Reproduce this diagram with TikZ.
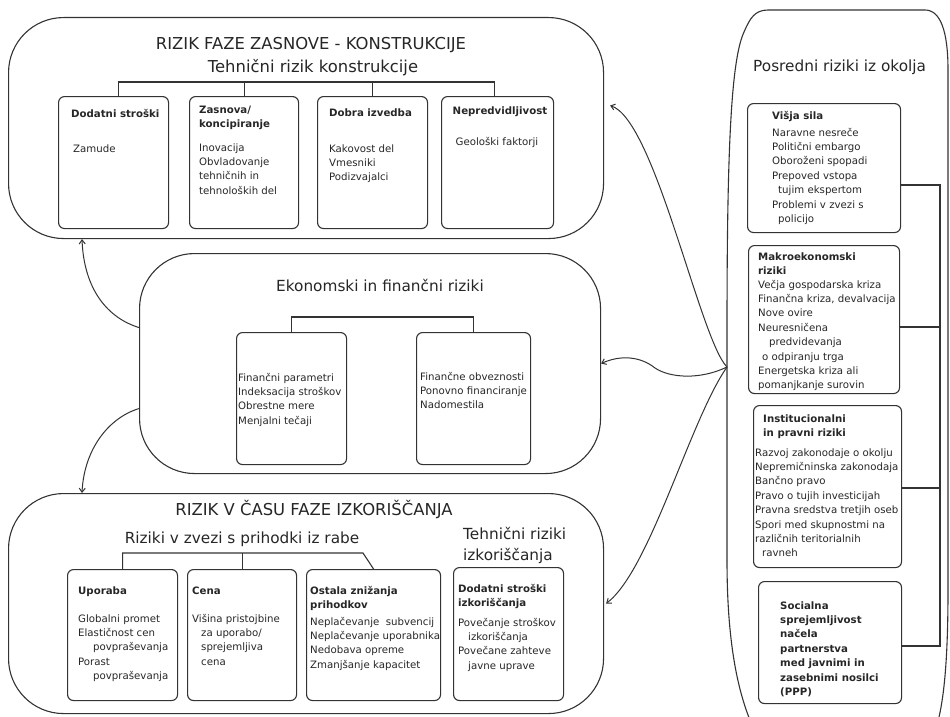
\documentclass[tikz,border=0pt]{standalone}
\usepackage{fontspec}
\setmainfont{DejaVu Sans}
\usetikzlibrary{arrows.meta}
\newcommand{\fsz}{\fontsize{10.2}{14.4}\selectfont}
\begin{document}
\begin{tikzpicture}[x=1pt,y=-1pt,
 ln/.style={draw=black!80,line width=1.1pt},
 panel/.style={ln,rounded corners=55pt,inner sep=0,anchor=north west},
 rbox/.style={ln,rounded corners=6pt,inner sep=0,anchor=north west},
 body/.style={font=\fsz,text=black!85,align=left,anchor=north west,inner sep=0},
 lineone/.style={font=\fsz,text=black!85,anchor=base west,inner sep=0},
 head/.style={body,font=\fsz\bfseries},
 headone/.style={lineone,font=\fsz\bfseries},
 ttl/.style={font=\fontsize{16.4}{20}\selectfont,text=black!85,inner sep=0,anchor=base},
 sub/.style={font=\fontsize{15.3}{21.5}\selectfont,text=black!85,inner sep=0,anchor=base},
 arr/.style={draw=black!80,line width=1pt,-{Straight Barb[length=4pt,width=6pt]}}]
\useasboundingbox (0,0) rectangle (950,717);
\clip (0,0) rectangle (950,717);

% ---------- top panel ----------
\node[panel,minimum width=595pt,minimum height=221pt] (top) at (8,17) {};
\node[ttl] (topta) at (311,50) {RIZIK FAZE ZASNOVE - KONSTRUKCIJE};
\node[ttl] (toptb) at (313,72) {Tehnični rizik konstrukcije};
\node[rbox,minimum width=110pt,minimum height=132pt] (t1) at (58,96) {};
\node[rbox,minimum width=109pt,minimum height=132pt] (t2) at (189,96) {};
\node[rbox,minimum width=110pt,minimum height=132pt] (t3) at (317,96) {};
\node[rbox,minimum width=112pt,minimum height=132pt] (t4) at (441,96) {};
\coordinate (tt) at (0,82);
\draw[ln] ([xshift=5pt]t1.north) -- ([xshift=5pt]t1.north |- tt) -- ([xshift=-3pt]t4.north |- tt) -- ([xshift=-3pt]t4.north);
\draw[ln] (t2.north) -- (t2.north |- tt);
\draw[ln] (t3.north) -- (t3.north |- tt);
\node[headone] (t1h) at (71,117) {Dodatni stroški};
\node[lineone] (t1b) at (73,152) {Zamude};
\node[head] (t2h) at (199,102.9) {\strut Zasnova/\\koncipiranje};
\node[body] (t2b) at (199,140.9) {\strut Inovacija\\Obvladovanje\\tehničnih in\\tehnoloških del};
\node[headone] (t3h) at (329,116) {Dobra izvedba};
\node[body] (t3b) at (329,141.9) {\strut Kakovost del\\Vmesniki\\Podizvajalci};
\node[headone,anchor=base] (t4h) at (500,114) {Nepredvidljivost};
\node[lineone,anchor=base] (t4b) at (497,145) {Geološki faktorji};

% ---------- middle panel ----------
\node[panel,minimum width=461pt,minimum height=220pt] (mid) at (139,253) {};
\node[sub] (midt) at (380,291) {Ekonomski in finančni riziki};
\node[rbox,minimum width=110pt,minimum height=132pt] (m1) at (236,332) {};
\node[rbox,minimum width=114pt,minimum height=132pt] (m2) at (416,332) {};
\coordinate (mtt) at (0,317);
\draw[ln] (m1.north) -- (m1.north |- mtt) -- (m2.north |- mtt) -- (m2.north);
\node[body] (m1b) at (238,370.9) {\strut Finančni parametri\\Indeksacija stroškov\\Obrestne mere\\Menjalni tečaji};
\node[body] (m2b) at (420,369.9) {\strut Finančne obveznosti\\Ponovno financiranje\\Nadomestila};

% ---------- bottom panel ----------
\node[panel,minimum width=595pt,minimum height=220pt] (bot) at (8,493) {};
\node[ttl] (bott) at (314,515) {RIZIK V ČASU FAZE IZKORIŠČANJA};
\node[sub] (bots) at (242,543) {Riziki v zvezi s prihodki iz rabe};
\node[sub,align=left,anchor=north west] (botsb) at (463,524) {\strut Tehnični riziki\\izkoriščanja};
\node[rbox,minimum width=110pt,minimum height=131pt] (b1) at (67,569) {};
\node[rbox,minimum width=109pt,minimum height=131pt] (b2) at (187,569) {};
\node[rbox,minimum width=134pt,minimum height=131pt] (b3) at (306,569) {};
\node[rbox,minimum width=110pt,minimum height=133pt] (b4) at (453,567) {};
\coordinate (btt) at (0,553);
\coordinate (bk) at (363,553);
\draw[ln] (b1.north) -- (b1.north |- btt) -- (bk) -- (b3.north);
\draw[ln] (b2.north) -- (b2.north |- btt);
\node[headone] (b1h) at (78,594) {Uporaba};
\node[body] (b1b) at (78,611.9) {\strut Globalni promet\\Elastičnost cen\\\hspace*{15pt}povpraševanja\\Porast\\\hspace*{15pt}povpraševanja};
\node[headone] (b2h) at (192,594) {Cena};
\node[body] (b2b) at (192,611.9) {\strut Višina pristojbine\\\hspace*{9pt}za uporabo/\\\hspace*{9pt}sprejemljiva\\\hspace*{9pt}cena};
\node[head] (b3h) at (310,583.9) {\strut Ostala znižanja\\prihodkov};
\node[body] (b3b) at (310,614.9) {\strut Neplačevanje\ \ subvencij\\Neplačevanje uporabnika\\Nedobava opreme\\Zmanjšanje kapacitet};
\node[head] (b4h) at (458,581.9) {\strut Dodatni stroški\\izkoriščanja};
\node[body] (b4b) at (458,615.9) {\strut Povečanje stroškov\\\hspace*{10pt}izkoriščanja\\Povečane zahteve\\\hspace*{10pt}javne uprave};

% ---------- right column ----------
\draw[ln] (727,560) -- (727,330) .. controls (727,150) and (731,60) .. (744,32) .. controls (750,18) and (755,10) .. (768,10) -- (925,10) .. controls (940,10) and (948,30) .. (948,70) -- (948,590) .. controls (948,660) and (944,700) .. (937,725);
\draw[ln] (727,560) .. controls (727,640) and (737,690) .. (752,725);
\node[sub,anchor=base west] (rt) at (753,71) {Posredni riziki iz okolja};
\node[rbox,minimum width=153pt,minimum height=129pt] (rv) at (747,103) {};
\node[rbox,minimum width=151pt,minimum height=148pt] (rm) at (748,245) {};
\node[rbox,minimum width=148pt,minimum height=162pt] (ri) at (753,405) {};
\node[rbox,minimum width=143pt,minimum height=122pt] (rs) at (758,581) {};
\coordinate (tr1) at (940,185);
\coordinate (tr2) at (940,327);
\coordinate (tr3) at (940,488);
\coordinate (tr4) at (940,646);
\draw[ln] (rv.east |- tr1) -- (tr1) -- (tr4) -- (rs.east |- tr4);
\draw[ln] (rm.east |- tr2) -- (tr2);
\draw[ln] (ri.east |- tr3) -- (tr3);
\node[headone] (rvh) at (772,119) {Višja sila};
\node[body] (rvb) at (772,125.9) {\strut Naravne nesreče\\Politični embargo\\Oboroženi spopadi\\Prepoved vstopa\\\hspace*{6pt}tujim ekspertom\\Problemi v zvezi s\\\hspace*{6pt}policijo};
\node[head] (rmh) at (758,249.9) {\strut Makroekonomski\\riziki};
\node[body] (rmb) at (758,277.9) {\strut Večja gospodarska kriza\\Finančna kriza, devalvacija\\Nove ovire\\Neuresničena\\\hspace*{11pt}predvidevanja\\\hspace*{4pt}o odpiranju trga\\Energetska kriza ali\\pomanjkanje surovin};
\node[head] (rih) at (763,411.9) {\strut Institucionalni\\in pravni riziki};
\node[body] (rib) at (755,445.9) {\strut Razvoj zakonodaje o okolju\\Nepremičninska zakonodaja\\Bančno pravo\\Pravo o tujih investicijah\\Pravna sredstva tretjih oseb\\Spori med skupnostmi na\\različnih teritorialnih\\\hspace*{7pt}ravneh};
\node[head] (rsh) at (780,598.9) {\strut Socialna\\sprejemljivost\\načela\\partnerstva\\med javnimi in\\zasebnimi nosilci\\(PPP)};

% ---------- connectors ----------
\coordinate (J) at (727,367);
\draw[arr] ([yshift=36pt]mid.west) .. controls (108,318) and (84,290) .. ([xshift=74pt]top.south west);
\draw[arr] ([yshift=-45pt]mid.west) .. controls (108,418) and (84,450) .. ([xshift=74pt]bot.north west);
\draw[arr] (J) .. controls (700,340) and (655,120) .. ([xshift=6pt,yshift=22.5pt]top.east);
\draw[arr] (J) .. controls (700,380) and (670,378) .. (655,368) .. controls (640,356) and (620,355) .. (mid.east);
\draw[arr] (J) .. controls (690,420) and (650,570) .. ([xshift=2pt]bot.east);
\end{tikzpicture}
\end{document}
